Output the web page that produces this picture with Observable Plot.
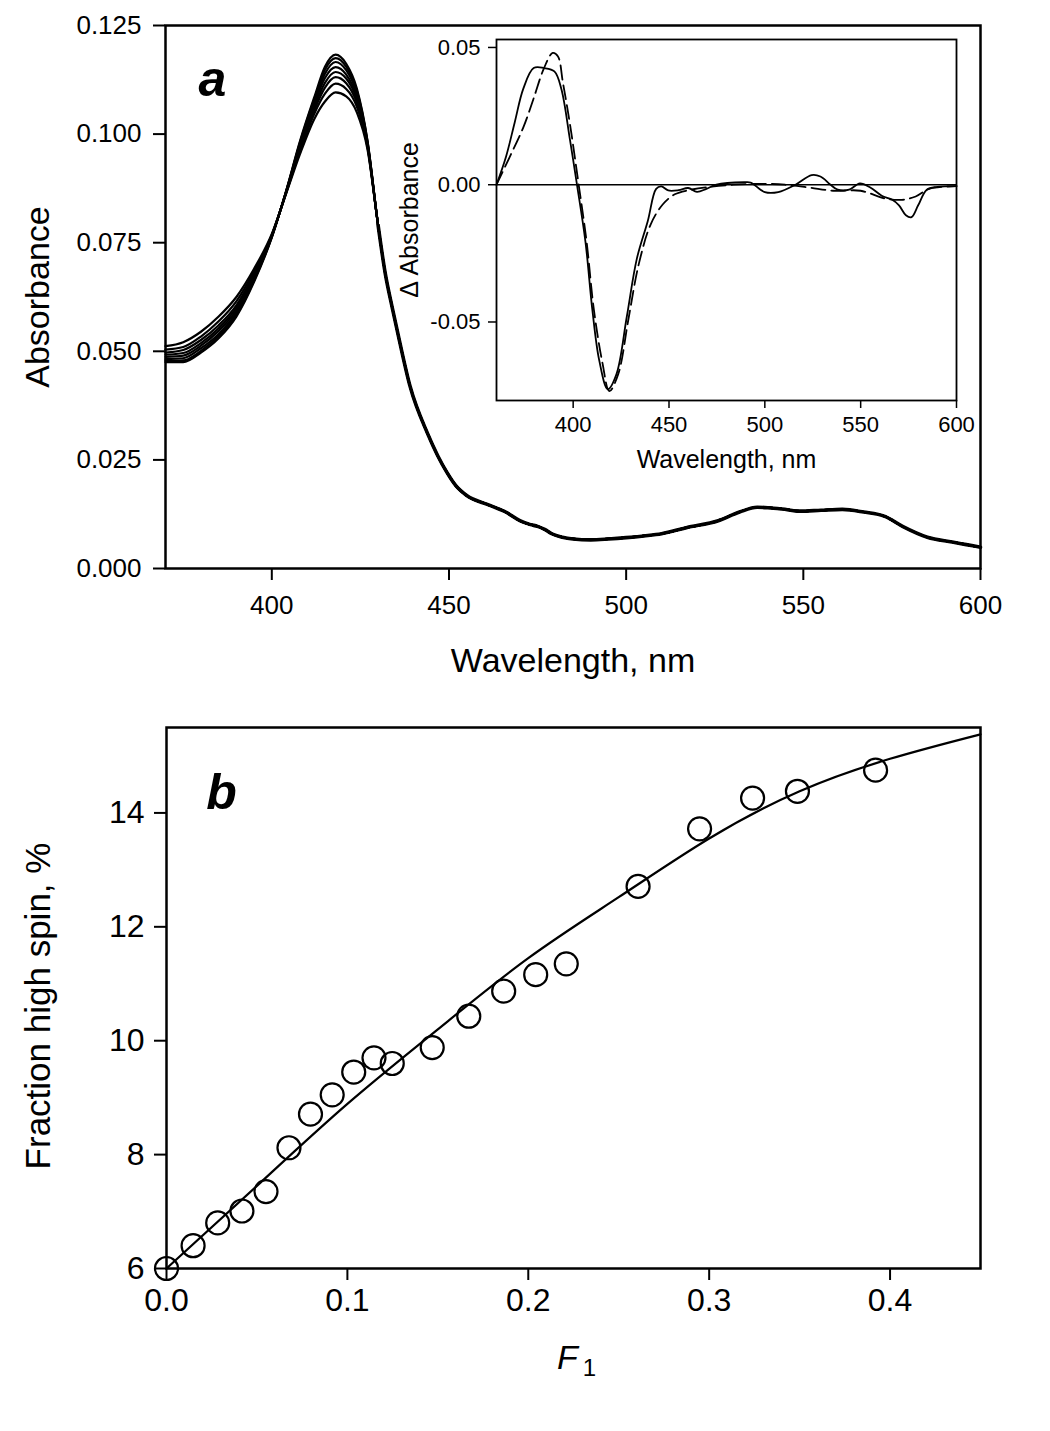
<!DOCTYPE html>
<html>
<head>
<meta charset="utf-8">
<script src="https://cdn.jsdelivr.net/npm/d3@7"></script>
<script src="https://cdn.jsdelivr.net/npm/@observablehq/plot@0.6"></script>
<style>
  body { margin: 0; background: #fff; }
  #wrap { position: relative; width: 1050px; height: 1431px; background: #fff; }
  #wrap > div { position: absolute; }
  svg { overflow: visible; }
</style>
</head>
<body>
<div id="wrap">
  <div id="pa" style="left:0;top:0"></div>
  <div id="inset" style="left:400px;top:20px"></div>
  <div id="pb" style="left:0;top:700px"></div>
</div>
<script>
// ---------- Panel a: absorbance spectra ----------
const headWavelengths = [370, 375, 380, 385, 390, 395, 400, 404, 408, 412, 415, 418, 421, 424, 427];
const spectrum1 = [0.0475, 0.0475, 0.0497, 0.0530, 0.0580, 0.0660, 0.0762, 0.0868, 0.0985, 0.1085, 0.1155, 0.1183, 0.1162, 0.1105, 0.0985];
const spectrum2 = [0.0478, 0.0479, 0.0501, 0.0535, 0.0584, 0.0663, 0.0763, 0.0867, 0.0982, 0.1081, 0.1148, 0.1175, 0.1155, 0.1100, 0.0983];
const spectrum3 = [0.0482, 0.0484, 0.0507, 0.0540, 0.0589, 0.0666, 0.0764, 0.0867, 0.0979, 0.1075, 0.1139, 0.1166, 0.1147, 0.1094, 0.0981];
const spectrum4 = [0.0487, 0.0490, 0.0513, 0.0547, 0.0594, 0.0670, 0.0765, 0.0866, 0.0975, 0.1069, 0.1129, 0.1154, 0.1137, 0.1087, 0.0978];
const spectrum5 = [0.0492, 0.0496, 0.0519, 0.0553, 0.0600, 0.0674, 0.0766, 0.0865, 0.0971, 0.1062, 0.1118, 0.1143, 0.1128, 0.1080, 0.0976];
const spectrum6 = [0.0497, 0.0503, 0.0526, 0.0560, 0.0606, 0.0678, 0.0767, 0.0864, 0.0967, 0.1055, 0.1107, 0.1131, 0.1117, 0.1072, 0.0973];
const spectrum7 = [0.0504, 0.0510, 0.0534, 0.0569, 0.0615, 0.0684, 0.0768, 0.0863, 0.0962, 0.1047, 0.1093, 0.1116, 0.1104, 0.1063, 0.0970];
const spectrum8 = [0.0512, 0.0521, 0.0545, 0.0580, 0.0625, 0.0690, 0.0770, 0.0862, 0.0955, 0.1035, 0.1075, 0.1096, 0.1087, 0.1050, 0.0965];
// beyond ~430 nm all spectra overlap
const tailWavelengths = [430, 432, 434, 436, 439, 444, 449.5, 452, 455, 461, 466, 470, 473, 475, 477, 479, 482, 485, 490, 495, 500, 505, 510, 517, 526, 532, 537, 540, 544, 549, 555, 561, 567, 573, 578, 585, 592, 596, 600];
const tailAbsorbance = [0.079, 0.068, 0.060, 0.0525, 0.042, 0.031, 0.022, 0.019, 0.0168, 0.0147, 0.013, 0.011, 0.0101, 0.0097, 0.009, 0.008, 0.0072, 0.0068, 0.0066, 0.0068, 0.0071, 0.0075, 0.008, 0.0094, 0.011, 0.013, 0.0141, 0.014, 0.0137, 0.0132, 0.0134, 0.0136, 0.013, 0.012, 0.0097, 0.0072, 0.0061, 0.0055, 0.0049];
const xTicksA = [400, 450, 500, 550, 600];
const yTicksA = [0, 0.025, 0.05, 0.075, 0.1, 0.125];

// ---------- Inset: difference spectra ----------
const insetWlSolid = [360, 365, 369.5, 374, 379.4, 384.8, 390.2, 393.8, 398.3, 401.9, 406.4, 410, 413.6, 418.1, 422.6, 428, 433.2, 438.9, 443.3, 446, 449.6, 455, 460, 464.6, 469.5, 474.7, 489.2, 492.6, 500, 507, 516, 524.4, 529, 534.3, 538, 544, 549.6, 555, 561, 566.5, 570, 573.6, 576.5, 580, 584.5, 590, 600];
const insetDeltaSolid = [0, 0.0103, 0.0227, 0.035, 0.0425, 0.0425, 0.0413, 0.035, 0.0165, 0.0004, -0.0207, -0.0455, -0.064, -0.0745, -0.069, -0.048, -0.027, -0.0133, -0.0015, -0.0006, -0.0021, -0.002, -0.0012, -0.0026, -0.0015, 0.0, 0.0009, 0.0008, -0.0027, -0.0027, 0.0, 0.0035, 0.003, 0.0, -0.0018, -0.0018, 0.0005, -0.001, -0.004, -0.0055, -0.0075, -0.0111, -0.0118, -0.0075, -0.0018, -0.0008, -0.0005];
const insetWlDashed = [360, 366.8, 374, 379.4, 384.8, 389.3, 392, 394.7, 398.3, 402.8, 407, 410.8, 415.3, 418.9, 423.5, 428.8, 434.2, 440.4, 446.7, 453, 460.2, 471, 483.6, 499.8, 510.5, 523, 535.6, 550, 562.6, 571.5, 578.7, 585.8, 600];
const insetDeltaDashed = [0, 0.01, 0.0209, 0.0315, 0.0425, 0.048, 0.0468, 0.037, 0.0222, 0.0004, -0.0207, -0.0455, -0.065, -0.0752, -0.069, -0.0491, -0.029, -0.0145, -0.0072, -0.0035, -0.002, -0.0008, 0, 0.0003, 0, -0.001, -0.0022, -0.0022, -0.005, -0.0055, -0.0043, -0.0015, -0.0005];
const xTicksInset = [400, 450, 500, 550, 600];
const yTicksInset = [-0.05, 0, 0.05];

// ---------- Panel b: fraction high spin vs F1 ----------
const pointsF1 = [0.000, 0.0147, 0.0283, 0.0417, 0.055, 0.0677, 0.0796, 0.0916, 0.1035, 0.1147, 0.1248, 0.1469, 0.1671, 0.1864, 0.2041, 0.221, 0.2607, 0.2947, 0.324, 0.3488, 0.392];
const pointsHS = [6.0, 6.40, 6.80, 7.01, 7.35, 8.12, 8.71, 9.05, 9.45, 9.70, 9.60, 9.88, 10.43, 10.87, 11.16, 11.35, 12.71, 13.72, 14.26, 14.38, 14.75];
const fitF1 = [0, 0.05, 0.1, 0.15, 0.2, 0.25, 0.3, 0.35, 0.4, 0.45];
const fitHS = [6.0, 7.45, 8.89, 10.2, 11.45, 12.52, 13.55, 14.38, 14.95, 15.38];
const xTicksB = [0, 0.1, 0.2, 0.3, 0.4];
const yTicksB = [6, 8, 10, 12, 14];

// ---------- build tables ----------
const spectra = [spectrum1, spectrum2, spectrum3, spectrum4, spectrum5, spectrum6, spectrum7, spectrum8];
const specRows = [];
spectra.forEach((s, i) => {
  headWavelengths.forEach((w, j) => specRows.push({wl: w, a: s[j], s: i}));
  tailWavelengths.forEach((w, j) => specRows.push({wl: w, a: tailAbsorbance[j], s: i}));
});
const tailRows = tailWavelengths.map((w, j) => ({wl: w, a: tailAbsorbance[j]}));
const solidRows = insetWlSolid.map((w, j) => ({wl: w, d: insetDeltaSolid[j]}));
const dashedRows = insetWlDashed.map((w, j) => ({wl: w, d: insetDeltaDashed[j]}));
const pointRows = pointsF1.map((f, j) => ({f, hs: pointsHS[j]}));
const fitRows = fitF1.map((f, j) => ({f, hs: fitHS[j]}));

const FONT = "'Liberation Sans', Arial, Helvetica, sans-serif";

// ---------- Panel a ----------
const pa = Plot.plot({
  width: 1050, height: 700,
  marginLeft: 165, marginRight: 70, marginTop: 25, marginBottom: 132,
  style: {fontFamily: FONT, fontSize: "26px", color: "#000", background: "transparent", overflow: "visible"},
  x: {domain: [370, 600]},
  y: {domain: [0, 0.125]},
  marks: [
    Plot.axisX({ticks: xTicksA, tickSize: 12, tickPadding: 15, strokeWidth: 2, label: null, tickFormat: d => String(d)}),
    Plot.axisY({ticks: yTicksA, tickSize: 12, tickPadding: 12, strokeWidth: 2, label: null, tickFormat: d => d.toFixed(3)}),
    Plot.line(specRows, {x: "wl", y: "a", z: "s", curve: "monotone-x", stroke: "#000", strokeWidth: 2.2}),
    Plot.line(tailRows, {x: "wl", y: "a", curve: "monotone-x", stroke: "#000", strokeWidth: 3.6}),
    Plot.frame({stroke: "#000", strokeWidth: 2.5}),
    Plot.text(["Wavelength, nm"], {frameAnchor: "bottom", textAnchor: "middle", lineAnchor: "middle", dy: 93, fontSize: 34}),
    Plot.text(["Absorbance"], {frameAnchor: "left", textAnchor: "middle", lineAnchor: "middle", rotate: -90, dx: -127, fontSize: 34}),
    Plot.text(["a"], {frameAnchor: "top-left", textAnchor: "middle", lineAnchor: "middle", dx: 47, dy: 54, fontSize: 50, fontWeight: "bold", fontStyle: "italic"})
  ]
});
document.getElementById("pa").appendChild(pa);

// ---------- Inset ----------
const ins = Plot.plot({
  width: 570, height: 460,
  marginLeft: 96, marginRight: 14, marginTop: 19, marginBottom: 80,
  style: {fontFamily: FONT, fontSize: "22px", color: "#000", background: "transparent", overflow: "visible"},
  x: {domain: [360, 600]},
  y: {domain: [-0.0786, 0.0529]},
  marks: [
    Plot.axisX({ticks: xTicksInset, tickSize: 8, tickPadding: 8, strokeWidth: 1.5, label: null, tickFormat: d => String(d)}),
    Plot.axisY({ticks: yTicksInset, tickSize: 8, tickPadding: 8, strokeWidth: 1.5, label: null, tickFormat: d => d.toFixed(2)}),
    Plot.ruleY([0], {stroke: "#000", strokeWidth: 1.6}),
    Plot.line(dashedRows, {x: "wl", y: "d", curve: "catmull-rom", stroke: "#000", strokeWidth: 1.8, strokeDasharray: "14,6"}),
    Plot.line(solidRows, {x: "wl", y: "d", curve: "catmull-rom", stroke: "#000", strokeWidth: 1.8}),
    Plot.frame({stroke: "#000", strokeWidth: 1.8}),
    Plot.text(["Wavelength, nm"], {frameAnchor: "bottom", textAnchor: "middle", lineAnchor: "middle", dy: 59, fontSize: 25}),
    Plot.text(["\u0394 Absorbance"], {frameAnchor: "left", textAnchor: "middle", lineAnchor: "middle", rotate: -90, dx: -87, fontSize: 25})
  ]
});
document.getElementById("inset").appendChild(ins);

// ---------- Panel b ----------
const pb = Plot.plot({
  width: 1050, height: 731,
  marginLeft: 166, marginRight: 70, marginTop: 27, marginBottom: 163,
  style: {fontFamily: FONT, fontSize: "32px", color: "#000", background: "transparent", overflow: "visible"},
  x: {domain: [0, 0.45]},
  y: {domain: [6, 15.5]},
  marks: [
    Plot.axisX({ticks: xTicksB, tickSize: 12, tickPadding: 8, strokeWidth: 2, label: null, tickFormat: d => d.toFixed(1)}),
    Plot.axisY({ticks: yTicksB, tickSize: 12, tickPadding: 10, strokeWidth: 2, label: null, tickFormat: d => String(d)}),
    Plot.line(fitRows, {x: "f", y: "hs", curve: "natural", stroke: "#000", strokeWidth: 2.2}),
    Plot.dot(pointRows, {x: "f", y: "hs", r: 11.5, stroke: "#000", strokeWidth: 2.2, fill: "none"}),
    Plot.frame({stroke: "#000", strokeWidth: 2.5}),
    Plot.text(["Fraction high spin, %"], {frameAnchor: "left", textAnchor: "middle", lineAnchor: "middle", rotate: -90, dx: -128, dy: 8, fontSize: 35}),
    Plot.text(["F"], {frameAnchor: "bottom", textAnchor: "middle", lineAnchor: "middle", dx: -6, dy: 90, fontSize: 34, fontStyle: "italic"}),
    Plot.text(["1"], {frameAnchor: "bottom", textAnchor: "middle", lineAnchor: "middle", dx: 16, dy: 100, fontSize: 24}),
    Plot.text(["b"], {frameAnchor: "top-left", textAnchor: "middle", lineAnchor: "middle", dx: 55, dy: 65, fontSize: 50, fontWeight: "bold", fontStyle: "italic"})
  ]
});
document.getElementById("pb").appendChild(pb);
</script>
</body>
</html>
